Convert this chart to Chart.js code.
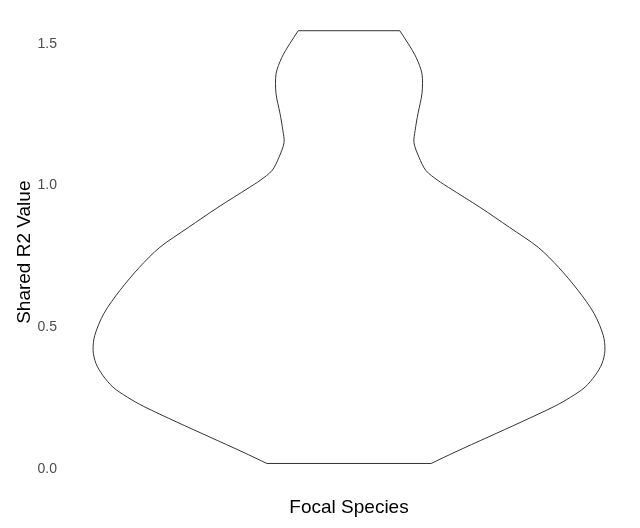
<!DOCTYPE html>
<html lang="en">
<head>
  <meta charset="UTF-8">
  <title>Shared R2 Value - Focal Species</title>
  <script src="https://cdn.jsdelivr.net/npm/chart.js"></script>
  <style>
    * { margin: 0; padding: 0; box-sizing: border-box; }
    body { background: #ffffff; }
    .chart-container { width: 640px; height: 528px; position: relative; }
  </style>
</head>
<body>
  <div class="chart-container">
    <canvas id="violinChart"></canvas>
  </div>

  <script>
    // violin outline: R2 value and half width (in category units)
    const category = 'Focal Species';
    const r2Values   = [0.020, 0.060, 0.113, 0.166, 0.222, 0.254, 0.289, 0.331, 0.373, 0.419, 0.472, 0.549, 0.630, 0.711,
                        0.782, 0.852, 0.923, 0.993, 1.018, 1.053, 1.099, 1.151, 1.194, 1.254, 1.324, 1.394, 1.451, 1.500, 1.546];
    const halfWidths = [0.144, 0.186, 0.244, 0.302, 0.361, 0.389, 0.414, 0.432, 0.444, 0.449, 0.446, 0.430, 0.402, 0.368,
                        0.332, 0.282, 0.230, 0.175, 0.156, 0.135, 0.123, 0.114, 0.116, 0.121, 0.128, 0.128, 0.118, 0.104, 0.089];
    const yTicks = [0.0, 0.5, 1.0, 1.5];
    const centre = 1;

    const leftSide  = r2Values.map((v, i) => ({ x: centre - halfWidths[i], y: v }));
    const rightSide = r2Values.map((v, i) => ({ x: centre + halfWidths[i], y: v }));
    const last = r2Values.length - 1;
    const topEdge    = [leftSide[last], rightSide[last]];
    const bottomEdge = [leftSide[0], rightSide[0]];

    const lineStyle = { showLine: true, pointRadius: 0, borderColor: '#333333', borderWidth: 1, fill: false };
    const fontFamily = 'Liberation Sans, Arial, sans-serif';

    new Chart(document.getElementById('violinChart'), {
      type: 'scatter',
      data: {
        datasets: [
          { ...lineStyle, data: leftSide, tension: 0.3 },
          { ...lineStyle, data: rightSide, tension: 0.3 },
          { ...lineStyle, data: topEdge, tension: 0 },
          { ...lineStyle, data: bottomEdge, tension: 0 }
        ]
      },
      options: {
        responsive: true,
        maintainAspectRatio: false,
        animation: false,
        layout: { padding: { top: 15, right: 6, left: 0, bottom: 0 } },
        plugins: { legend: { display: false }, tooltip: { enabled: false } },
        scales: {
          x: {
            type: 'linear', min: 0.5, max: 1.5,
            grid: { display: false }, border: { display: false },
            ticks: { display: false },
            title: { display: true, text: category, color: '#000', font: { family: fontFamily, size: 19 }, padding: { top: 0, bottom: 9 } },
            afterFit: s => { s.height = 39; }
          },
          y: {
            type: 'linear', min: -0.07, max: 1.6,
            grid: { display: false, drawTicks: false }, border: { display: false },
            afterBuildTicks: s => { s.ticks = yTicks.map(v => ({ value: v })); },
            ticks: { color: '#4d4d4d', padding: 7, font: { family: fontFamily, size: 14 }, callback: v => Number(v).toFixed(1) },
            title: { display: true, text: 'Shared R2 Value', color: '#000', font: { family: fontFamily, size: 19 }, padding: { top: 13, bottom: 0 } },
            afterFit: s => { s.width = 64; }
          }
        }
      }
    });
  </script>
</body>
</html>
